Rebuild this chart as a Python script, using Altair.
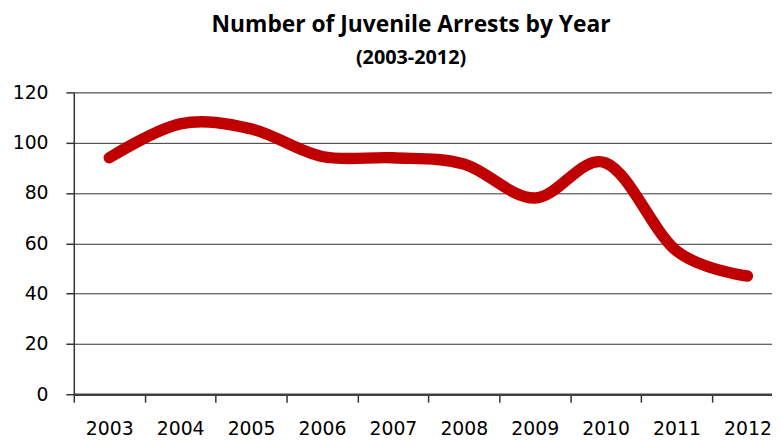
import altair as alt
import pandas as pd

years = ["2003", "2004", "2005", "2006", "2007", "2008", "2009", "2010", "2011", "2012"]
arrests = [94, 107.5, 105.5, 94.5, 94, 91.5, 78, 92, 57, 47]
y_ticks = [0, 20, 40, 60, 80, 100, 120]

df = pd.DataFrame({"year": years, "arrests": arrests})

chart = alt.Chart(df).mark_line(
    color="#C00000", strokeWidth=11.5, interpolate="cardinal", strokeCap="round", strokeJoin="round"
).encode(
    x=alt.X(
        "year:O",
        bandPosition=0.5,
        scale=alt.Scale(type="band", paddingInner=0, paddingOuter=0, range=[0, 716.5]),
        axis=alt.Axis(
            title=None, labelAngle=0, tickBand="extent", grid=False,
            labelFont="DejaVu Sans", labelFontSize=19, labelColor="#000000",
            labelPadding=18, tickSize=8, tickColor="#333333", tickWidth=1.5,
            domainColor="#404040", domainWidth=2.5, labelBaseline="top",
        ),
    ),
    y=alt.Y(
        "arrests:Q",
        scale=alt.Scale(domain=[0, 120], nice=False),
        axis=alt.Axis(
            title=None, values=y_ticks, grid=True, gridColor="#333333", gridWidth=1,
            labelFont="DejaVu Sans", labelFontSize=19, labelColor="#000000",
            labelPadding=18, tickSize=8, tickColor="#333333", tickWidth=1.5,
            domainColor="#333333", domainWidth=1.5,
        ),
    ),
).properties(
    width=705.5,
    height=305,
    title=alt.TitleParams(
        text="Number of Juvenile Arrests by Year",
        subtitle="(2003-2012)",
        font="Open Sans", fontSize=23, fontWeight="bold", color="#000000",
        subtitleFont="Open Sans", subtitleFontSize=20, subtitleFontWeight="bold",
        subtitleColor="#000000", subtitlePadding=11,
        anchor="middle", dx=-12, offset=16,
    ),
    autosize=alt.AutoSizeParams(type="none"),
    padding={"left": 66.5, "top": 83, "right": 0, "bottom": 44},
).configure_view(stroke=None).configure(background="white")

chart.save("out.html", embed_options={"renderer": "svg", "actions": False})
